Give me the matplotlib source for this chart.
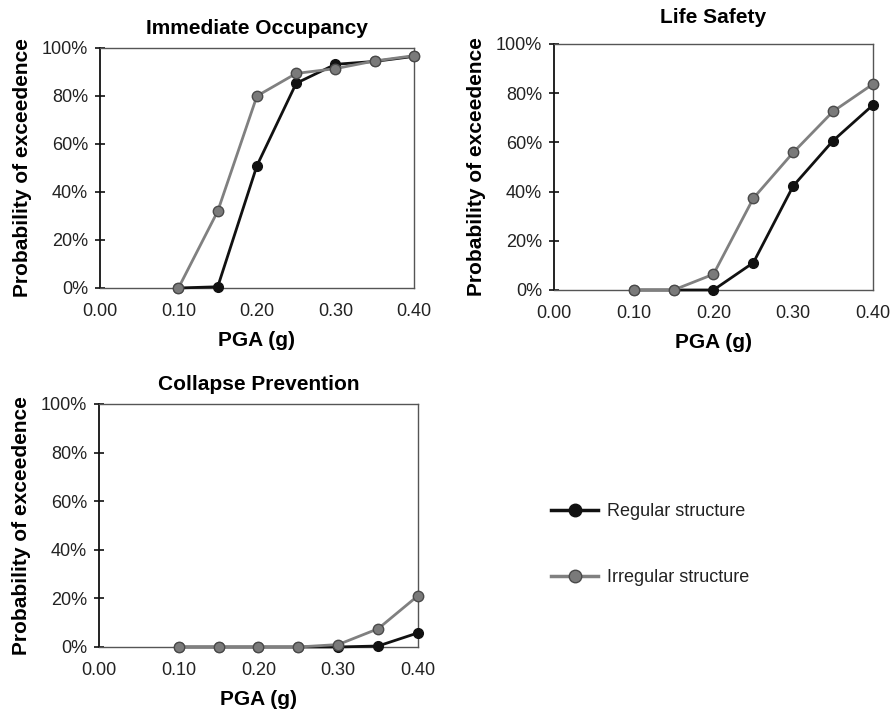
import matplotlib
matplotlib.use("Agg")
import matplotlib.pyplot as plt
from matplotlib.ticker import FuncFormatter

plt.rcParams["font.family"] = ["Liberation Sans", "DejaVu Sans"]

pga = [0.10, 0.15, 0.20, 0.25, 0.30, 0.35, 0.40]

io_regular = [0.0, 0.5, 51.0, 85.3, 93.2, 94.4, 96.5]
io_irregular = [0.0, 32.0, 80.0, 89.4, 91.4, 94.6, 96.8]

ls_regular = [0.0, 0.0, 0.0, 11.1, 42.3, 60.7, 75.2]
ls_irregular = [0.0, 0.0, 6.4, 37.3, 55.9, 72.6, 83.7]

cp_regular = [0.0, 0.0, 0.0, 0.0, 0.0, 0.4, 5.8]
cp_irregular = [0.0, 0.0, 0.0, 0.0, 1.0, 7.5, 21.1]

x_ticks = [0.00, 0.10, 0.20, 0.30, 0.40]
y_ticks = [0, 20, 40, 60, 80, 100]

BLACK = "#111111"
GRAY = "#808080"
TXT = "#222222"


def panel(ax, title, regular, irregular, title_pad=10):
    ax.plot(pga, regular, color=BLACK, lw=2.0, marker="o", ms=7,
            mfc=BLACK, mec=BLACK, zorder=3, clip_on=False)
    ax.plot(pga, irregular, color=GRAY, lw=2.0, marker="o", ms=7.5,
            mfc="#7a7a7a", mec="#4a4a4a", mew=1.0, zorder=4, clip_on=False)
    ax.set_xlim(0, 0.40)
    ax.set_ylim(0, 100)
    ax.set_xticks(x_ticks)
    ax.set_yticks(y_ticks)
    ax.xaxis.set_major_formatter(FuncFormatter(lambda v, _: f"{v:.2f}"))
    ax.yaxis.set_major_formatter(FuncFormatter(lambda v, _: f"{v:.0f}%"))
    ax.tick_params(axis="y", direction="inout", length=7, width=1.2,
                   color=BLACK, labelsize=13, labelcolor=TXT, pad=5)
    ax.tick_params(axis="x", length=0, labelsize=13, labelcolor=TXT, pad=11)
    ax.spines["left"].set_color(BLACK)
    ax.spines["left"].set_linewidth(1.3)
    for side in ("top", "right", "bottom"):
        ax.spines[side].set_color("#555555")
        ax.spines[side].set_linewidth(1.0)
    ax.set_title(title, fontsize=15, fontweight="bold", pad=title_pad)
    ax.set_xlabel("PGA (g)", fontsize=15, fontweight="bold", labelpad=8)
    ax.set_ylabel("Probability of exceedence", fontsize=15,
                  fontweight="bold", labelpad=7)


fig = plt.figure(figsize=(8.96, 7.13), dpi=100)
ax1 = fig.add_axes([0.1116, 0.5961, 0.3504, 0.3366])
ax2 = fig.add_axes([0.6183, 0.5933, 0.3560, 0.3450])
ax3 = fig.add_axes([0.1105, 0.0926, 0.3560, 0.3408])

panel(ax1, "Immediate Occupancy", io_regular, io_irregular, title_pad=10)
panel(ax2, "Life Safety", ls_regular, ls_irregular, title_pad=15)
panel(ax3, "Collapse Prevention", cp_regular, cp_irregular, title_pad=10)

# legend sits in the empty lower-right slot
h1, = ax3.plot([], [], color=BLACK, lw=2.5, marker="o", ms=9, mfc=BLACK,
               mec=BLACK, label="Regular structure")
h2, = ax3.plot([], [], color=GRAY, lw=2.5, marker="o", ms=9, mfc="#7a7a7a",
               mec="#4a4a4a", label="Irregular structure")
fig.legend(handles=[h1, h2], loc="center left", bbox_to_anchor=(0.597, 0.236),
           frameon=False, fontsize=13, handlelength=2.6, handletextpad=0.5,
           labelspacing=2.7, labelcolor=TXT)

fig.savefig("out.png", dpi=100)
